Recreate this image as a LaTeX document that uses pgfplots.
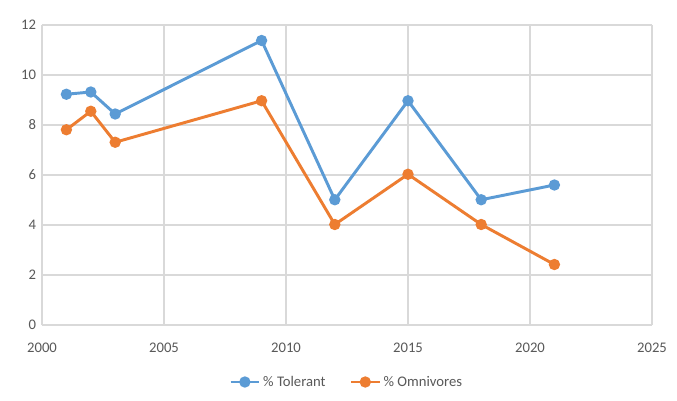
\documentclass[border=0pt]{standalone}
\usepackage{pgfplots}
\pgfplotsset{compat=1.18}
\usepackage{fontspec}
\setmainfont{Carlito}
\definecolor{cblue}{HTML}{5B9BD5}
\definecolor{corange}{HTML}{ED7D31}
\definecolor{cgrid}{HTML}{D9D9D9}
\definecolor{ctext}{HTML}{595959}
\begin{document}
\begin{tikzpicture}
\path[use as bounding box] (-31.5pt,-56.25pt) rectangle (476.25pt,243.75pt);
\fill[white] (-31.5pt,-56.25pt) rectangle (476.25pt,243.75pt);
\begin{axis}[
  at={(0pt,0pt)}, anchor=south west,
  scale only axis, width=457.5pt, height=225pt,
  xmin=2000, xmax=2025, ymin=0, ymax=12,
  xtick={2000,2005,...,2025}, ytick={0,2,...,12},
  /pgf/number format/1000 sep={},
  /pgf/number format/assume math mode=true,
  grid=major, major grid style={cgrid, line width=0.8pt},
  axis line style={cgrid, line width=0.8pt},
  axis x line*=bottom, axis y line*=left,
  y axis line style={draw=none},
  tick style={draw=none},
  ticklabel style={font=\fontsize{11}{13}\selectfont, text=ctext},
  xticklabel style={yshift=-10pt},
  yticklabel style={xshift=-1pt},
  legend style={at={(0.5,-0.19)}, anchor=center, draw=none, fill=none,
    font=\fontsize{11}{13}\selectfont, text=ctext, legend columns=2,
    /tikz/every even column/.append style={column sep=16pt}},
  legend image code/.code={
    \draw[#1, mark=none] (0cm,0cm) -- (0.75cm,0cm);
    \draw[#1, only marks] plot coordinates {(0.375cm,0cm)};
  },
]
\addplot[cblue, line width=2.2pt, mark=*, mark size=3.1pt, mark options={solid}] coordinates {
(2001,9.23) (2002,9.32) (2003,8.44) (2009,11.38) (2012,5.01) (2015,8.97) (2018,5.01) (2021,5.6)
};
\addlegendentry{\% Tolerant}
\addplot[corange, line width=2.2pt, mark=*, mark size=3.1pt, mark options={solid}] coordinates {
(2001,7.81) (2002,8.55) (2003,7.31) (2009,8.97) (2012,4.02) (2015,6.03) (2018,4.02) (2021,2.42)
};
\addlegendentry{\% Omnivores}
\end{axis}
\end{tikzpicture}
\end{document}
